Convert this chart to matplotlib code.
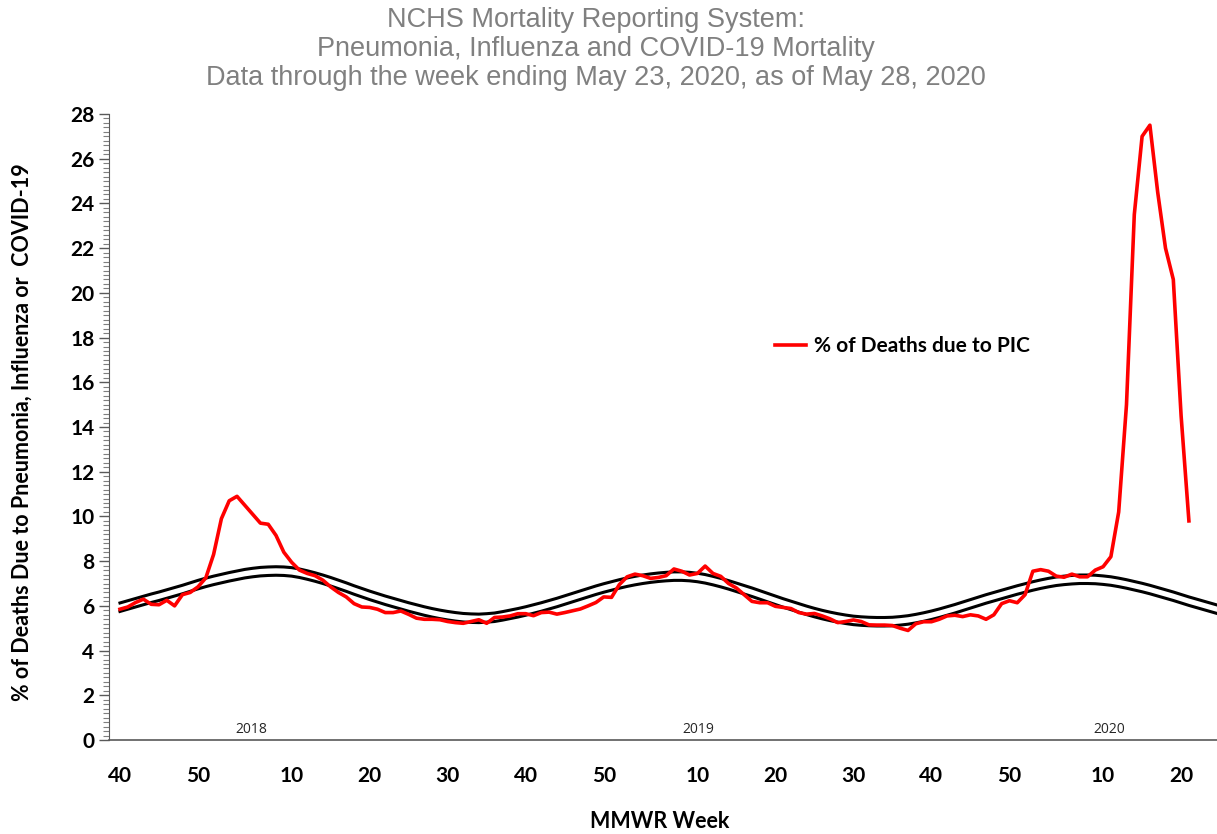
import matplotlib
matplotlib.use("Agg")
import matplotlib.pyplot as plt
from matplotlib.ticker import MultipleLocator

# MMWR weeks from 2017 week 40 to 2020 week 21 (index 0 = 2017 wk 40)
pic_pct = [5.85, 5.95, 6.15, 6.3, 6.07, 6.05, 6.25, 6.0, 6.5, 6.6,
           6.85, 7.25, 8.3, 9.9, 10.7, 10.9, 10.5, 10.1, 9.7, 9.65,
           9.15, 8.4, 7.95, 7.6, 7.45, 7.35, 7.15, 6.85, 6.6, 6.4,
           6.1, 5.95, 5.93, 5.85, 5.7, 5.7, 5.77, 5.62, 5.45, 5.4,
           5.4, 5.38, 5.3, 5.25, 5.22, 5.3, 5.38, 5.22, 5.48, 5.5,
           5.55, 5.65, 5.65, 5.56, 5.7, 5.72, 5.63, 5.7, 5.78, 5.86,
           6.0, 6.15, 6.4, 6.38, 6.95, 7.3, 7.42, 7.35, 7.23, 7.27,
           7.35, 7.65, 7.55, 7.38, 7.45, 7.78, 7.45, 7.32, 7.0, 6.8,
           6.5, 6.2, 6.14, 6.14, 5.98, 5.93, 5.88, 5.7, 5.63, 5.66,
           5.55, 5.42, 5.25, 5.3, 5.37, 5.3, 5.15, 5.14, 5.14, 5.12,
           5.0, 4.9, 5.2, 5.29, 5.29, 5.4, 5.55, 5.58, 5.52, 5.6,
           5.55, 5.4, 5.6, 6.1, 6.23, 6.14, 6.5, 7.55, 7.62, 7.55,
           7.33, 7.28, 7.42, 7.3, 7.3, 7.6, 7.75, 8.2, 10.2, 15.0,
           23.5, 27.0, 27.5, 24.5, 22.0, 20.6, 14.5, 9.8]

# seasonal baseline and epidemic threshold, 2017 wk 40 to 2020 wk 25
baseline = [5.75, 5.85, 5.95, 6.05, 6.15, 6.24, 6.34, 6.44, 6.54, 6.65,
            6.76, 6.86, 6.95, 7.03, 7.11, 7.18, 7.25, 7.3, 7.34, 7.36,
            7.37, 7.36, 7.33, 7.27, 7.19, 7.1, 7.0, 6.89, 6.77, 6.65,
            6.52, 6.4, 6.28, 6.17, 6.06, 5.96, 5.86, 5.76, 5.67, 5.58,
            5.5, 5.43, 5.37, 5.32, 5.28, 5.26, 5.25, 5.27, 5.3, 5.36,
            5.43, 5.5, 5.58, 5.67, 5.76, 5.86, 5.96, 6.07, 6.18, 6.29,
            6.4, 6.51, 6.61, 6.7, 6.79, 6.87, 6.94, 7.0, 7.05, 7.09,
            7.12, 7.14, 7.14, 7.12, 7.08, 7.02, 6.94, 6.85, 6.75, 6.64,
            6.53, 6.42, 6.3, 6.18, 6.06, 5.94, 5.83, 5.72, 5.61, 5.51,
            5.42, 5.34, 5.27, 5.21, 5.16, 5.13, 5.11, 5.1, 5.1, 5.11,
            5.14, 5.18, 5.24, 5.31, 5.39, 5.48, 5.58, 5.68, 5.79, 5.9,
            6.01, 6.12, 6.22, 6.32, 6.42, 6.52, 6.61, 6.7, 6.78, 6.85,
            6.91, 6.95, 6.98, 7.0, 7.0, 6.99, 6.96, 6.92, 6.86, 6.79,
            6.71, 6.63, 6.54, 6.44, 6.34, 6.24, 6.13, 6.02, 5.92, 5.82,
            5.72, 5.62]

threshold = [6.13, 6.23, 6.33, 6.43, 6.53, 6.62, 6.72, 6.82, 6.92, 7.03,
             7.14, 7.24, 7.33, 7.41, 7.49, 7.56, 7.63, 7.68, 7.72, 7.74,
             7.75, 7.74, 7.71, 7.65, 7.57, 7.48, 7.38, 7.27, 7.15, 7.03,
             6.9, 6.78, 6.66, 6.55, 6.44, 6.34, 6.24, 6.14, 6.05, 5.96,
             5.88, 5.81, 5.75, 5.7, 5.66, 5.64, 5.63, 5.65, 5.68, 5.74,
             5.81, 5.88, 5.96, 6.05, 6.14, 6.24, 6.34, 6.45, 6.56, 6.67,
             6.78, 6.89, 6.99, 7.08, 7.17, 7.25, 7.32, 7.38, 7.43, 7.47,
             7.5, 7.52, 7.52, 7.5, 7.46, 7.4, 7.32, 7.23, 7.13, 7.02,
             6.91, 6.8, 6.68, 6.56, 6.44, 6.32, 6.21, 6.1, 5.99, 5.89,
             5.8, 5.72, 5.65, 5.59, 5.54, 5.51, 5.49, 5.48, 5.48, 5.49,
             5.52, 5.56, 5.62, 5.69, 5.77, 5.86, 5.96, 6.06, 6.17, 6.28,
             6.39, 6.5, 6.6, 6.7, 6.8, 6.9, 6.99, 7.08, 7.16, 7.23,
             7.29, 7.33, 7.36, 7.38, 7.38, 7.37, 7.34, 7.3, 7.24, 7.17,
             7.09, 7.01, 6.92, 6.82, 6.72, 6.62, 6.51, 6.4, 6.3, 6.2,
             6.1, 6.0]

week_ticks = [0, 10, 22, 32, 42, 52, 62, 74, 84, 94, 104, 114, 126, 136]
week_labels = ["40", "50", "10", "20", "30", "40", "50",
               "10", "20", "30", "40", "50", "10", "20"]
year_pos = [16.8, 74.1, 126.8]
year_labels = ["2018", "2019", "2020"]

bold_font = ["Lato", "DejaVu Sans"]
title_font = ["Liberation Sans", "DejaVu Sans"]

fig = plt.figure(figsize=(12.17, 8.34), dpi=100)
ax = fig.add_axes([0.0896, 0.1127, 0.9104, 0.7506])

ax.plot(range(len(threshold)), threshold, color="black", lw=2.2)
ax.plot(range(len(baseline)), baseline, color="black", lw=2.2)
ax.plot(range(len(pic_pct)), pic_pct, color="#ff0000", lw=2.6,
        solid_joinstyle="round", label="% of Deaths due to PIC")

ax.set_xlim(-1.4, 140.6)
ax.set_ylim(0, 28)

ax.yaxis.set_major_locator(MultipleLocator(2))
ax.yaxis.set_minor_locator(MultipleLocator(0.2))
ax.tick_params(axis="y", which="major", length=7, width=1, color="#595959")
ax.tick_params(axis="y", which="minor", length=4, width=0.8, color="#7f7f7f")
for lab in ax.get_yticklabels():
    lab.set_fontfamily(bold_font)
    lab.set_fontweight("bold")
    lab.set_fontsize(15)

ax.set_xticks(week_ticks)
ax.set_xticklabels(week_labels, fontfamily=bold_font, fontweight="bold",
                   fontsize=15)
ax.tick_params(axis="x", length=0, pad=19)

for s in ["top", "right"]:
    ax.spines[s].set_visible(False)
ax.spines["left"].set_color("#595959")
ax.spines["bottom"].set_color("#595959")
ax.spines["bottom"].set_linewidth(1.2)

for xp, yl in zip(year_pos, year_labels):
    ax.text(xp, 0.15, yl, ha="center", va="bottom", fontsize=10,
            fontfamily=["Open Sans", "DejaVu Sans"], color="#262626")

fig.text(0.49, 1 - 20 / 834, "NCHS Mortality Reporting System:",
         ha="center", va="center", fontsize=19.5, color="#808080",
         fontfamily=title_font)
fig.text(0.49, 1 - 49 / 834, "Pneumonia, Influenza and COVID-19 Mortality",
         ha="center", va="center", fontsize=19.5, color="#808080",
         fontfamily=title_font)
fig.text(0.49, 1 - 78 / 834,
         "Data through the week ending May 23, 2020, as of May 28, 2020",
         ha="center", va="center", fontsize=19.5, color="#808080",
         fontfamily=title_font)

fig.text(22 / 1217, 1 - 432 / 834,
         "% of Deaths Due to Pneumonia, Influenza or  COVID-19",
         rotation=90, ha="center", va="center", fontsize=15.5,
         fontweight="bold", fontfamily=bold_font)
fig.text(660 / 1217, 1 - 822 / 834, "MMWR Week", ha="center", va="center",
         fontsize=15.5, fontweight="bold", fontfamily=bold_font)

ax.legend(loc="center left", bbox_to_anchor=(775 / 1217, 1 - 346 / 834),
          bbox_transform=fig.transFigure, frameon=False, borderpad=0,
          borderaxespad=0, handlelength=1.5, handletextpad=0.35,
          prop={"family": bold_font, "weight": "bold", "size": 15})

fig.savefig("out.png", dpi=100)
